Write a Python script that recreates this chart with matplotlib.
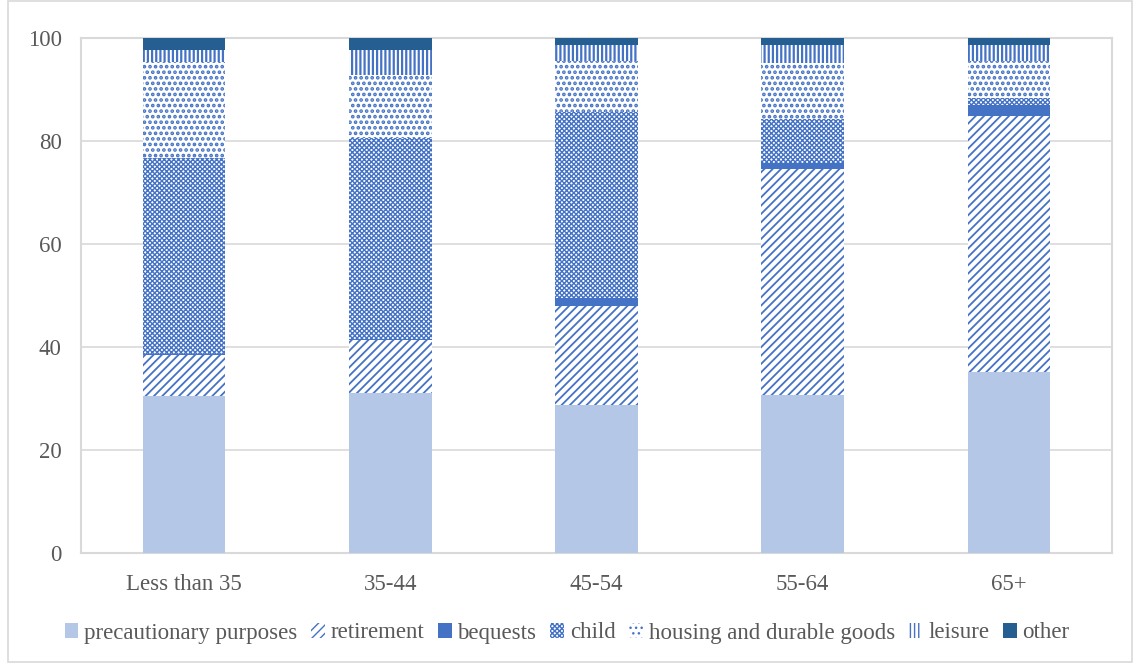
import numpy as np
import matplotlib.pyplot as plt
from matplotlib.patches import Patch, Rectangle

# data (percent shares)
categories = ['Less than 35', '35-44', '45-54', '55-64', '65+']
precautionary = [30.5, 31.0, 28.8, 30.7, 35.2]
retirement = [7.9, 10.4, 19.2, 43.8, 49.7]
bequests = [0.3, 0.2, 1.5, 1.2, 2.1]
child = [38.0, 39.0, 36.2, 8.5, 1.3]
housing = [18.7, 12.2, 9.9, 10.9, 7.3]
leisure = [2.3, 4.9, 3.0, 3.5, 3.0]
other = [2.3, 2.3, 1.4, 1.4, 1.4]

series = [
    ('precautionary purposes', precautionary),
    ('retirement', retirement),
    ('bequests', bequests),
    ('child', child),
    ('housing and durable goods', housing),
    ('leisure', leisure),
    ('other', other),
]

blue = '#4472C4'
# (facecolor, edgecolor, hatch, hatch linewidth)
styles = [
    ('#B4C7E7', '#B4C7E7', None, 1.0),
    ('white', blue, '////', 1.3),
    (blue, blue, None, 1.0),
    ('white', blue, 'xxxxxxx', 1.0),
    ('white', blue, '...', 1.8),
    ('white', blue, '||||', 1.6),
    ('#255E91', '#255E91', None, 1.0),
]

plt.rcParams['font.family'] = ['Liberation Serif', 'DejaVu Serif']
plt.rcParams['hatch.linewidth'] = 1.0


def hatch_lw(artist, lw):
    if hasattr(artist, 'set_hatch_linewidth'):
        artist.set_hatch_linewidth(lw)


fig = plt.figure(figsize=(11.34, 6.63), dpi=100)
ax = fig.add_axes([81 / 1134, 1 - 553 / 663, 1031 / 1134, 515 / 663])

x = np.arange(len(categories))
bottom = np.zeros(len(categories))
handles = []
for (name, vals), (fc, ec, h, hl) in zip(series, styles):
    bars = ax.bar(x, vals, 0.4, bottom=bottom, facecolor=fc, edgecolor=ec,
                  hatch=h, linewidth=0, zorder=3)
    for b in bars:
        hatch_lw(b, hl)
    bottom += np.array(vals)
    p = Patch(facecolor=fc, edgecolor=ec, hatch=h, linewidth=0, label=name)
    hatch_lw(p, hl)
    handles.append(p)

ax.set_xlim(-0.5, len(categories) - 0.5)
ax.set_ylim(0, 100)
ax.set_yticks([0, 20, 40, 60, 80, 100])
ax.set_xticks(x)
ax.set_xticklabels(categories)
ax.tick_params(axis='both', length=0, labelsize=16.5, colors='#595959')
ax.tick_params(axis='x', pad=15)
ax.tick_params(axis='y', pad=14)
ax.yaxis.grid(True, color='#D9D9D9', linewidth=1.2, zorder=0)
for s in ax.spines.values():
    s.set_color('#D9D9D9')
    s.set_linewidth(1.5)

leg = fig.legend(handles=handles, loc='center', bbox_to_anchor=(0.5, 1 - 633 / 663),
                 ncol=7, frameon=False, fontsize=16.5, handlelength=0.6,
                 handleheight=0.6, handletextpad=0.25, columnspacing=0.6)
for t in leg.get_texts():
    t.set_color('#595959')

fig.patches.append(Rectangle((8 / 1134, 1 / 663), 1 - 10 / 1134, 1 - 2 / 663,
                             transform=fig.transFigure, fill=False,
                             edgecolor='#D9D9D9', linewidth=1.2))

fig.savefig('out.png', dpi=100)
